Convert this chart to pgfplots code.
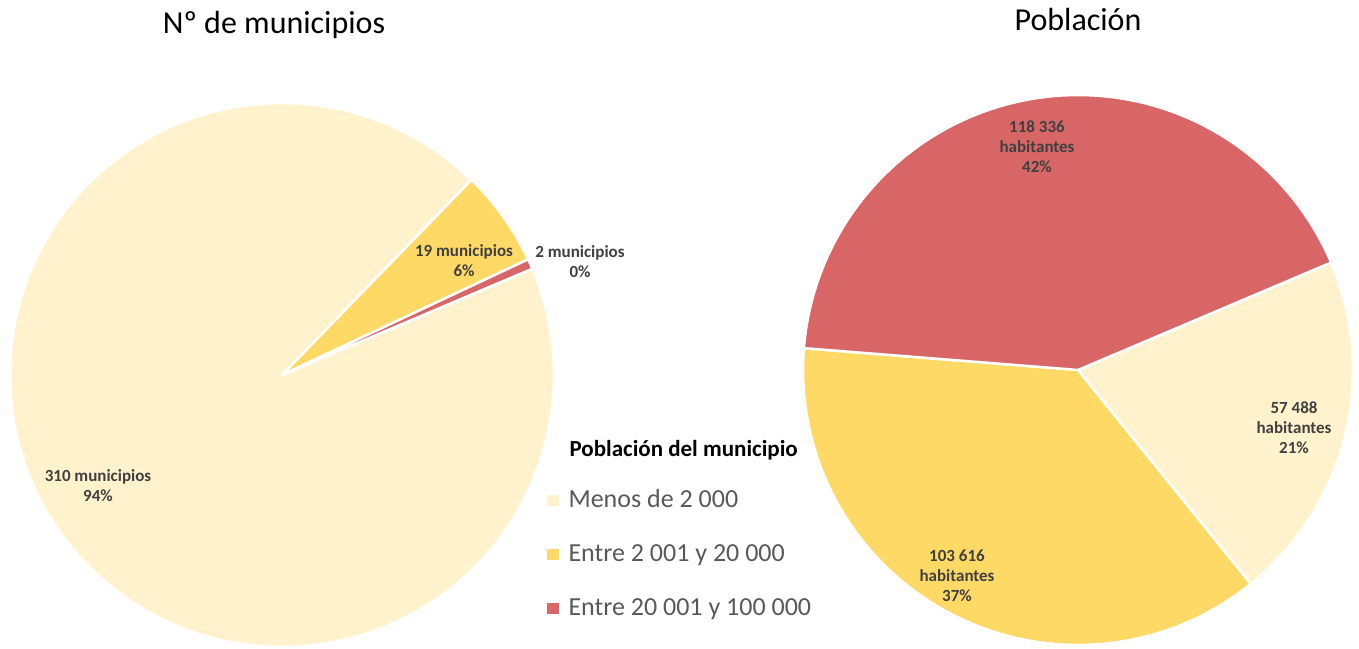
\documentclass[border=0pt]{standalone}
\usepackage{pgfplots}
\pgfplotsset{compat=1.18}
\usepackage{pgfplotstable}
\usepackage{fontspec}
\setmainfont{Carlito}
\definecolor{cLight}{HTML}{FFF2CC}
\definecolor{cGold}{HTML}{FFD966}
\definecolor{cRed}{HTML}{D96666}
\definecolor{cLbl}{HTML}{404040}
\definecolor{cLeg}{HTML}{595959}

\pgfplotstableread{
categoria municipios poblacion
1 310 57488
2 19 103616
3 2 118336
}\datos

\pgfplotstablegetelem{0}{municipios}\of\datos\edef\mA{\pgfplotsretval}
\pgfplotstablegetelem{1}{municipios}\of\datos\edef\mB{\pgfplotsretval}
\pgfplotstablegetelem{2}{municipios}\of\datos\edef\mC{\pgfplotsretval}
\pgfplotstablegetelem{0}{poblacion}\of\datos\edef\pA{\pgfplotsretval}
\pgfplotstablegetelem{1}{poblacion}\of\datos\edef\pB{\pgfplotsretval}
\pgfplotstablegetelem{2}{poblacion}\of\datos\edef\pC{\pgfplotsretval}

\def\startang{23}
\edef\mT{\fpeval{\mA+\mB+\mC}}
\edef\lA{\fpeval{round(\startang,3)}}
\edef\lB{\fpeval{round(\startang-360*\mA/\mT,3)}}
\edef\lC{\fpeval{round(\startang-360*(\mA+\mB)/\mT,3)}}
\edef\lD{\fpeval{round(\startang-360,3)}}
\edef\pT{\fpeval{\pA+\pB+\pC}}
\edef\rA{\fpeval{round(\startang,3)}}
\edef\rB{\fpeval{round(\startang-360*\pA/\pT,3)}}
\edef\rC{\fpeval{round(\startang-360*(\pA+\pB)/\pT,3)}}
\edef\rD{\fpeval{round(\startang-360,3)}}

\begin{document}
\begin{tikzpicture}[
  lbl/.style={font=\bfseries\fontsize{17}{20}\selectfont, text=cLbl, align=center},
  slice/.style={draw=white, line width=2.5pt, line join=round},
]
\begin{axis}[
  scale only axis, width=1359pt, height=648pt,
  xmin=0, xmax=1359, ymin=0, ymax=648,
  hide axis, clip=false,
]
\path (axis cs:0,0) rectangle (axis cs:1359,648);
% left pie: number of municipalities
\addplot[slice, fill=cLight, variable=\t, domain=\lB:\lA, samples=120] ({282+272*cos(\t)},{273+272*sin(\t)}) -- (axis cs:282,273) -- cycle;
\addplot[slice, fill=cGold, variable=\t, domain=\lC:\lB, samples=30] ({282+272*cos(\t)},{273+272*sin(\t)}) -- (axis cs:282,273) -- cycle;
\addplot[slice, fill=cRed, variable=\t, domain=\lD:\lC, samples=10] ({282+272*cos(\t)},{273+272*sin(\t)}) -- (axis cs:282,273) -- cycle;
% right pie: population
\addplot[slice, fill=cLight, variable=\t, domain=\rB:\rA, samples=60] ({1078+275*cos(\t)},{278+275*sin(\t)}) -- (axis cs:1078,278) -- cycle;
\addplot[slice, fill=cGold, variable=\t, domain=\rC:\rB, samples=80] ({1078+275*cos(\t)},{278+275*sin(\t)}) -- (axis cs:1078,278) -- cycle;
\addplot[slice, fill=cRed, variable=\t, domain=\rD:\rC, samples=90] ({1078+275*cos(\t)},{278+275*sin(\t)}) -- (axis cs:1078,278) -- cycle;

% titles
\node[anchor=base, font=\fontsize{32}{38}\selectfont] at (axis cs:274,614) {Nº de municipios};
\node[anchor=base, font=\fontsize{32}{38}\selectfont] at (axis cs:1078,617) {Población};

% data labels
\node[lbl] at (axis cs:464,387) {19 municipios\\6\%};
\node[lbl] at (axis cs:580,386) {2 municipios\\0\%};
\node[lbl] at (axis cs:98,162) {310 municipios\\94\%};
\node[lbl] at (axis cs:1037,501) {118 336\\habitantes\\42\%};
\node[lbl] at (axis cs:1294,220) {57 488\\habitantes\\21\%};
\node[lbl] at (axis cs:957,72) {103 616\\habitantes\\37\%};

% legend
\node[anchor=base west, font=\bfseries\fontsize{23}{27}\selectfont] at (axis cs:566,191) {Población del municipio};
\fill[cLight] (axis cs:547,142) rectangle (axis cs:559,153);
\fill[cGold] (axis cs:547,88) rectangle (axis cs:559,99);
\fill[cRed] (axis cs:547,34) rectangle (axis cs:559,45);
\node[anchor=base west, text=cLeg, font=\fontsize{26}{30}\selectfont] at (axis cs:565,140) {Menos de 2 000};
\node[anchor=base west, text=cLeg, font=\fontsize{26}{30}\selectfont] at (axis cs:565,86) {Entre 2 001 y 20 000};
\node[anchor=base west, text=cLeg, font=\fontsize{26}{30}\selectfont] at (axis cs:565,32) {Entre 20 001 y 100 000};
\end{axis}
\end{tikzpicture}
\end{document}
